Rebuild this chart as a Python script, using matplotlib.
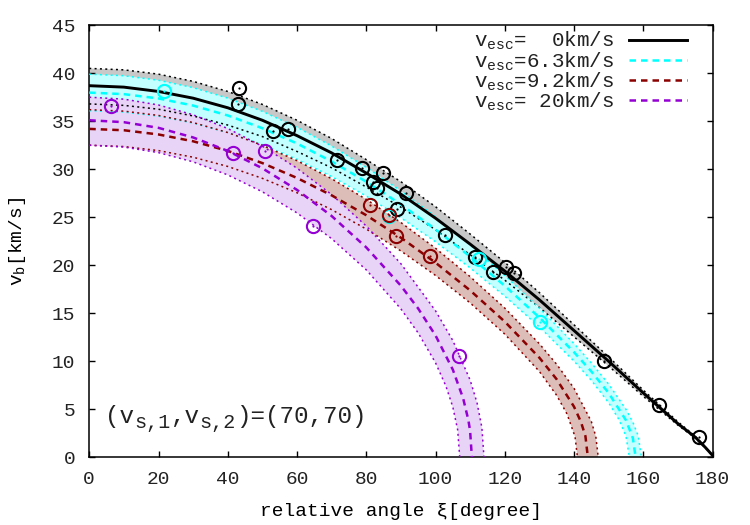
import matplotlib
matplotlib.use("Agg")
import matplotlib.pyplot as plt
from matplotlib.axes import Axes

plt.rcParams["font.family"] = ["Liberation Mono", "DejaVu Sans Mono"]
plt.rcParams["mathtext.fontset"] = "custom"
plt.rcParams["mathtext.rm"] = "Liberation Mono"
plt.rcParams["mathtext.it"] = "Liberation Mono"
plt.rcParams["font.size"] = 14
plt.rcParams["text.color"] = "#222222"
plt.rcParams["xtick.labelcolor"] = "#222222"
plt.rcParams["ytick.labelcolor"] = "#222222"

# v_esc = 0 km/s (black)
xi_k = [0, 10, 20, 30, 40, 50, 60, 70, 80, 90, 100, 110, 120, 130, 140, 150, 160, 170, 175, 178, 180]
vb_k = [38.7, 38.55, 38.1, 37.4, 36.4, 35.1, 33.5, 31.7, 29.6, 27.4, 24.9, 22.2, 19.4, 16.4, 13.2, 10.0, 6.7, 3.5, 2.1, 1.0, 0.2]
vb_k_hi = [40.5, 40.35, 39.9, 39.15, 38.1, 36.75, 35.1, 33.2, 31.0, 28.7, 26.1, 23.25, 20.3, 17.15, 13.8, 10.45, 7.0, 3.7, 2.2, 1.05, 0.2]
vb_k_lo = [36.8, 36.65, 36.25, 35.55, 34.6, 33.4, 31.85, 30.15, 28.15, 26.05, 23.7, 21.1, 18.45, 15.6, 12.55, 9.5, 6.35, 3.35, 2.0, 0.95, 0.2]

# v_esc = 6.3 km/s (cyan)
xi_c = [0, 10, 20, 30, 40, 50, 60, 70, 80, 90, 100, 110, 120, 130, 140, 145, 150, 155, 157, 157.8]
vb_c = [37.98, 37.82, 37.37, 36.63, 35.6, 34.27, 32.68, 30.81, 28.7, 26.33, 23.74, 20.91, 17.86, 14.56, 10.95, 8.94, 6.7, 3.86, 2.0, 0]
xi_c_hi = [0, 10, 20, 30, 40, 50, 60, 70, 80, 90, 100, 110, 120, 130, 140, 145, 150, 155, 157, 158.5, 159.5]
vb_c_hi = [39.9, 39.74, 39.27, 38.5, 37.41, 36.03, 34.37, 32.42, 30.21, 27.75, 25.05, 22.11, 18.95, 15.54, 11.84, 9.83, 7.62, 5.0, 3.65, 2.27, 0]
xi_c_lo = [0, 10, 20, 30, 40, 50, 60, 70, 80, 90, 100, 110, 120, 130, 140, 145, 150, 153, 155, 156]
vb_c_lo = [36.1, 35.96, 35.53, 34.81, 33.82, 32.56, 31.03, 29.24, 27.21, 24.94, 22.45, 19.73, 16.78, 13.58, 10.02, 8.02, 5.69, 3.92, 2.22, 0]

# v_esc = 9.2 km/s (dark red)
xi_r = [0, 10, 20, 30, 40, 50, 60, 70, 80, 90, 100, 110, 120, 130, 135, 140, 142, 143.3, 144]
vb_r = [34.2, 34.06, 33.62, 32.91, 31.91, 30.64, 29.09, 27.28, 25.21, 22.87, 20.27, 17.38, 14.13, 10.37, 8.12, 5.27, 3.69, 2.2, 0]
xi_r_hi = [0, 10, 20, 30, 40, 50, 60, 70, 80, 90, 100, 110, 120, 130, 135, 140, 145, 146.3, 147]
vb_r_hi = [36.2, 36.05, 35.6, 34.86, 33.82, 32.49, 30.89, 29.01, 26.86, 24.45, 21.77, 18.81, 15.54, 11.82, 9.68, 7.19, 3.73, 2.18, 0]
xi_r_lo = [0, 10, 20, 30, 40, 50, 60, 70, 80, 90, 100, 110, 120, 130, 135, 138, 140.3, 141]
vb_r_lo = [32.5, 32.36, 31.94, 31.25, 30.29, 29.05, 27.55, 25.79, 23.77, 21.49, 18.94, 16.08, 12.83, 8.94, 6.45, 4.5, 2.14, 0]

# v_esc = 20 km/s (violet)
xi_p = [0, 10, 20, 30, 40, 50, 60, 70, 80, 90, 95, 100, 105, 108, 109.5, 110, 110.5]
vb_p = [35.1, 34.9, 34.31, 33.31, 31.91, 30.1, 27.85, 25.13, 21.86, 17.87, 15.49, 12.69, 9.13, 6.12, 3.86, 2.72, 0]
xi_p_hi = [0, 10, 20, 30, 40, 50, 60, 70, 80, 90, 100, 105, 110, 112, 113.4, 114]
vb_p_hi = [37.5, 37.3, 36.69, 35.67, 34.24, 32.39, 30.11, 27.36, 24.09, 20.16, 15.26, 12.16, 8.04, 5.67, 3.08, 0]
xi_p_lo = [0, 10, 20, 30, 40, 50, 60, 70, 80, 90, 95, 100, 103, 105, 106.4, 107]
vb_p_lo = [32.5, 32.31, 31.73, 30.77, 29.41, 27.65, 25.45, 22.77, 19.52, 15.46, 12.95, 9.85, 7.42, 5.24, 2.86, 0]

# measured points
pts_k_xi = [43.2, 43.1, 53.1, 57.5, 71.6, 78.8, 81.9, 83.1, 84.8, 88.8, 91.5, 102.6, 111.3, 116.5, 120.4, 122.8, 148.7, 164.6, 176.2]
pts_k_vb = [38.5, 36.8, 34.0, 34.2, 31.0, 30.1, 28.7, 28.0, 29.6, 25.9, 27.5, 23.2, 20.9, 19.3, 19.8, 19.2, 10.0, 5.45, 2.1]
pts_c_xi = [21.6, 86.5, 112.5, 130.2]
pts_c_vb = [38.1, 25.1, 20.7, 14.1]
pts_r_xi = [81.2, 86.5, 88.5, 98.3]
pts_r_vb = [26.3, 25.2, 23.0, 21.0]
pts_p_xi = [6.2, 41.5, 50.7, 64.5, 106.7]
pts_p_vb = [36.6, 31.7, 31.9, 24.1, 10.5]

labels = [r"v$_{\mathrm{esc}}$=  0km/s", r"v$_{\mathrm{esc}}$=6.3km/s",
          r"v$_{\mathrm{esc}}$=9.2km/s", r"v$_{\mathrm{esc}}$= 20km/s"]
note_pieces = [("(v", False), ("s,1", True), (",v", False), ("s,2", True), (")=(70,70)", False)]

BLACK, CYAN, DRED, VIOLET = "#000000", "#00ffff", "#8b0000", "#9400d3"


def draw_band(ax: Axes, xh, yh, xl, yl, fill_color: str) -> None:
    ax.fill(list(xh) + list(xl)[::-1], list(yh) + list(yl)[::-1], color=fill_color, lw=0, zorder=1)


def draw_edges(ax: Axes, xh, yh, xl, yl, color: str) -> None:
    for x, y in ((xh, yh), (xl, yl)):
        ax.plot(x, y, color=color, lw=1.1, dashes=(1.3, 2.2), zorder=3)


def draw_points(ax: Axes, x, y, color: str) -> None:
    ax.plot(x, y, ls="none", marker="o", ms=9.5, mfc="none", mec=color, mew=1.5, zorder=5)
    ax.plot(x, y, ls="none", marker="o", ms=1.6, mfc=color, mec=color, mew=0, zorder=5)


def gp_text(ax: Axes, x: float, y: float, pieces, size: float, sub_size: float) -> None:
    # gnuplot-like enhanced text: monospace, so each char advances 0.6 em
    off = 0.0
    for s, sub in pieces:
        fs = sub_size if sub else size
        ax.annotate(s, (x, y), xytext=(off, -3.5 if sub else 0), textcoords="offset points",
                    fontsize=fs, va="baseline", ha="left")
        off += 0.6 * fs * len(s)


fig = plt.figure(figsize=(7.5, 5.25), dpi=100)
ax = fig.add_axes([0.119, 0.129, 0.831, 0.823])

draw_band(ax, xi_k, vb_k_hi, xi_k, vb_k_lo, "#c8c8c8")
draw_band(ax, xi_c_hi, vb_c_hi, xi_c_lo, vb_c_lo, "#c4ffff")
draw_band(ax, xi_r_hi, vb_r_hi, xi_r_lo, vb_r_lo, "#dcbdb8")
draw_band(ax, xi_p_hi, vb_p_hi, xi_p_lo, vb_p_lo, "#e8d4f6")

draw_edges(ax, xi_k, vb_k_hi, xi_k, vb_k_lo, BLACK)
draw_edges(ax, xi_c_hi, vb_c_hi, xi_c_lo, vb_c_lo, CYAN)
draw_edges(ax, xi_r_hi, vb_r_hi, xi_r_lo, vb_r_lo, DRED)
draw_edges(ax, xi_p_hi, vb_p_hi, xi_p_lo, vb_p_lo, VIOLET)

ax.plot(xi_k, vb_k, color=BLACK, lw=2.1, label=labels[0], zorder=4)
ax.plot(xi_c, vb_c, color=CYAN, lw=1.8, dashes=(2.6, 2.0), label=labels[1], zorder=4)
ax.plot(xi_r, vb_r, color=DRED, lw=1.8, dashes=(2.6, 2.0), label=labels[2], zorder=4)
ax.plot(xi_p, vb_p, color=VIOLET, lw=1.8, dashes=(2.6, 2.0), label=labels[3], zorder=4)

draw_points(ax, pts_k_xi, pts_k_vb, BLACK)
draw_points(ax, pts_c_xi, pts_c_vb, CYAN)
draw_points(ax, pts_r_xi, pts_r_vb, DRED)
draw_points(ax, pts_p_xi, pts_p_vb, VIOLET)

ax.set_xlim(0, 180)
ax.set_ylim(0, 45)
ax.set_xticks(range(0, 181, 20))
ax.set_yticks(range(0, 46, 5))
ax.tick_params(direction="in", length=4.5, width=1, top=True, right=True, labelsize=14)
ax.tick_params(axis="x", pad=10)
ax.tick_params(axis="y", pad=10)
for s in ax.spines.values():
    s.set_linewidth(1.1)

ax.set_xlabel("relative angle ξ[degree]", fontsize=14, labelpad=11)
ax.set_ylabel(r"v$_{\mathrm{b}}$[km/s]", fontsize=14, labelpad=17)
gp_text(ax, 4.6, 3.6, note_pieces, 17.5, 14.5)

ax.legend(loc="upper right", bbox_to_anchor=(0.973, 1.008), frameon=False, markerfirst=False,
          handlelength=2.8, fontsize=15, labelspacing=-0.1, borderaxespad=0.0, handletextpad=0.7)

fig.savefig("out.png", dpi=100)
